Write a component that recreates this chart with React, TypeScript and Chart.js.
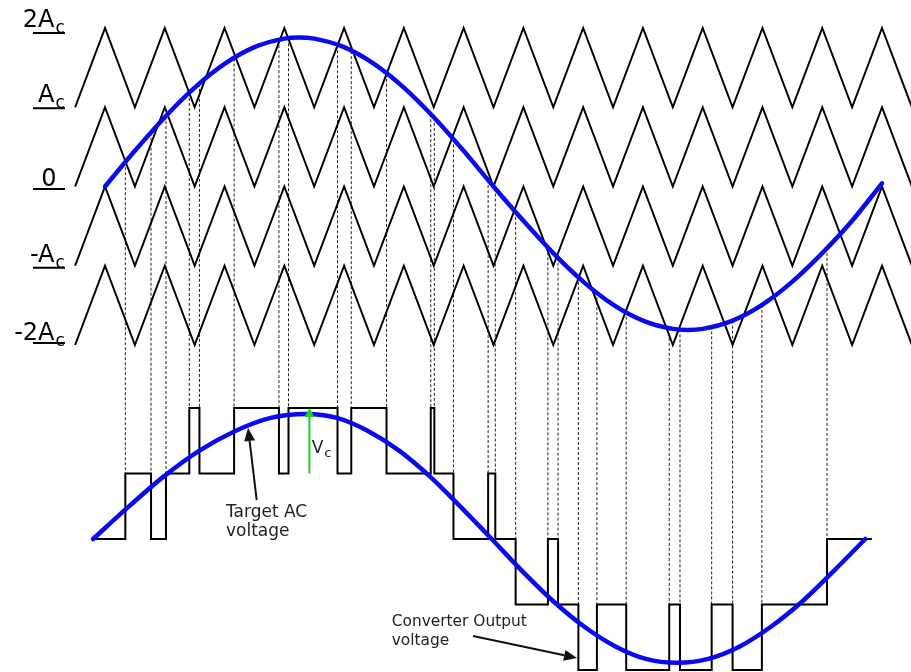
import React, { useEffect, useRef } from "react";
import { Chart, registerables } from "chart.js";

Chart.register(...registerables);

// ---------- DATA ----------
// carrier vertex times (in carrier periods), trough / peak alternating
const CARRIER_TIMES = [
  -0.5, 0, 0.5, 1, 1.5, 2, 2.5, 3, 3.5, 4, 4.5, 5, 5.5, 6, 6.5, 7, 7.5, 8, 8.5,
  9, 9.5, 10, 10.5, 11, 11.5, 12, 12.5, 13, 13.5,
];
// [trough, peak] of each level-shifted carrier, in units of Ac
const CARRIER_BANDS: [number, number][] = [
  [1, 2],
  [0, 1],
  [-1, 0],
  [-2, -1],
];

// reference (modulating) sine, in units of Ac
const REF_TIMES = [
  0, 0.5, 1, 1.5, 2, 2.5, 3, 3.25, 3.5, 4, 4.5, 5, 5.5, 6, 6.5, 7, 7.5, 8, 8.5,
  9, 9.5, 9.75, 10, 10.5, 11, 11.5, 12, 12.5, 13,
];
const REF_VALUES = [
  0, 0.45, 0.874, 1.247, 1.547, 1.758, 1.866, 1.88, 1.866, 1.758, 1.547, 1.247,
  0.874, 0.45, 0, -0.433, -0.841, -1.2, -1.49, -1.692, -1.797, -1.81, -1.797,
  -1.692, -1.49, -1.2, -0.841, -0.433, 0.04,
];

// converter output: switching instants and level after each switch
const OUT_SWITCH_TIMES = [
  -0.2, 0.34, 0.77, 1.02, 1.41, 1.58, 2.16, 2.91, 3.07, 3.89, 4.12, 4.71, 5.45,
  5.51, 5.83, 6.41, 6.53, 6.87, 7.41, 7.58, 7.92, 8.23, 8.72, 9.44, 9.62, 10.15,
  10.5, 10.99, 12.08,
];
const OUT_LEVELS = [
  0, 1, 0, 1, 2, 1, 2, 1, 2, 1, 2, 1, 2, 1, 0, 1, 0, -1, 0, -1, -2, -1, -2, -1,
  -2, -1, -2, -1, 0,
];
const OUT_END_TIME = 12.83;

// target AC voltage drawn with the output (in output levels)
const TARGET_TIMES = [
  -0.2, 0.39, 0.99, 1.58, 2.18, 2.77, 3.36, 3.88, 4.4, 4.92, 5.43, 5.95, 6.47,
  6.98, 7.5, 8.02, 8.54, 9.05, 9.57, 10.09, 10.62, 11.14, 11.67, 12.19, 12.72,
];
const TARGET_LEVELS = [
  0, 0.49, 0.96, 1.35, 1.65, 1.85, 1.91, 1.85, 1.65, 1.35, 0.96, 0.49, 0, -0.49,
  -0.95, -1.34, -1.64, -1.83, -1.89, -1.83, -1.64, -1.34, -0.95, -0.49, 0,
];

// level labels on the left
const LEVEL_VALUES = [2, 1, 0, -1, -2];
const LEVEL_MAIN = ["2A", "A", "0", "-A", "-2A"];
const LEVEL_SUB = ["c", "c", "", "c", "c"];

// ---------- LAYOUT ----------
const W = 911;
const H = 672;
const X_MIN = -1.757;
const X_MAX = 13.485;
const Y_MIN = -6.126;
const Y_MAX = 2.353;
const OUT_CENTER = -4.448;
const OUT_STEP = 0.8265;
const outV = (L: number) => OUT_CENTER + L * OUT_STEP;

const BLUE = "#0a0af0";
const GREEN = "#22cc22";
const FONT = "'DejaVu Sans', Verdana, sans-serif";

function interpRef(t: number) {
  for (let i = 0; i < REF_TIMES.length - 1; i++) {
    if (t >= REF_TIMES[i] && t <= REF_TIMES[i + 1]) {
      const f = (t - REF_TIMES[i]) / (REF_TIMES[i + 1] - REF_TIMES[i]);
      return REF_VALUES[i] + f * (REF_VALUES[i + 1] - REF_VALUES[i]);
    }
  }
  return 0;
}

function arrow(
  ctx: CanvasRenderingContext2D,
  x0: number,
  y0: number,
  x1: number,
  y1: number,
  color: string,
  headLen: number,
  headHalf: number,
  lw: number
) {
  const ang = Math.atan2(y1 - y0, x1 - x0);
  const bx = x1 - headLen * Math.cos(ang);
  const by = y1 - headLen * Math.sin(ang);
  ctx.strokeStyle = color;
  ctx.fillStyle = color;
  ctx.lineWidth = lw;
  ctx.setLineDash([]);
  ctx.beginPath();
  ctx.moveTo(x0, y0);
  ctx.lineTo(bx, by);
  ctx.stroke();
  ctx.beginPath();
  ctx.moveTo(x1, y1);
  ctx.lineTo(bx + headHalf * Math.sin(ang), by - headHalf * Math.cos(ang));
  ctx.lineTo(bx - headHalf * Math.sin(ang), by + headHalf * Math.cos(ang));
  ctx.closePath();
  ctx.fill();
}

const annotatePlugin = {
  id: "annotate",
  afterDatasetsDraw(chart: any) {
    const ctx: CanvasRenderingContext2D = chart.ctx;
    const xs = chart.scales.x;
    const ys = chart.scales.y;
    const px = (t: number) => xs.getPixelForValue(t);
    const py = (v: number) => ys.getPixelForValue(v);
    const pyL = (L: number) => py(outV(L));
    ctx.save();

    // level labels with underlines
    const baseOff = [-1, -5, 0, -4, -5];
    const ulOff = [5, 1, 2.5, 2, -2];
    ctx.fillStyle = "#000";
    ctx.strokeStyle = "#000";
    ctx.textBaseline = "alphabetic";
    LEVEL_VALUES.forEach((v, i) => {
      const yl = py(v);
      const base = yl + baseOff[i];
      ctx.font = `24px ${FONT}`;
      if (LEVEL_SUB[i]) {
        ctx.textAlign = "right";
        ctx.fillText(LEVEL_MAIN[i], 54.5, base);
        ctx.font = `17px ${FONT}`;
        ctx.textAlign = "left";
        ctx.fillText(LEVEL_SUB[i], 55.5, base + 6);
      } else {
        ctx.textAlign = "center";
        ctx.fillText(LEVEL_MAIN[i], 49, base);
      }
      ctx.lineWidth = 2;
      ctx.beginPath();
      ctx.moveTo(33, yl + ulOff[i]);
      ctx.lineTo(65, yl + ulOff[i]);
      ctx.stroke();
    });

    // Target AC voltage annotation
    ctx.font = `17px ${FONT}`;
    ctx.textAlign = "left";
    ctx.fillStyle = "#222";
    ctx.fillText("Target AC", px(2.024), pyL(0.34));
    ctx.fillText("voltage", px(2.024), pyL(0.053));
    arrow(ctx, px(2.538), pyL(0.595), px(2.393), pyL(1.695), "#111", 13, 5.5, 2);

    // V_c step arrow
    arrow(ctx, px(3.42), pyL(1), px(3.42), pyL(2), GREEN, 9, 5, 2);
    ctx.fillStyle = "#222";
    ctx.font = `17px ${FONT}`;
    ctx.fillText("V", px(3.458), pyL(1.308));
    ctx.font = `13px ${FONT}`;
    ctx.fillText("c", px(3.458) + 12.5, pyL(1.308) + 4);

    // Converter output annotation
    ctx.font = `15.4px ${FONT}`;
    ctx.fillStyle = "#222";
    ctx.fillText("Converter Output", px(4.797), pyL(-1.328));
    ctx.fillText("voltage", px(4.797), pyL(-1.618));
    arrow(ctx, px(6.157), pyL(-1.481), px(7.897), pyL(-1.817), "#111", 13, 5.5, 2);

    ctx.restore();
  },
};

export default function App() {
  const ref = useRef<HTMLCanvasElement | null>(null);

  useEffect(() => {
    document.body.style.margin = "0";
    const canvas = ref.current;
    if (!canvas) return;

    const carrierSets = CARRIER_BANDS.map(([lo, hi]) => ({
      data: CARRIER_TIMES.map((t, i) => ({ x: t, y: i % 2 === 0 ? lo : hi })),
      borderColor: "#000",
      borderWidth: 2,
      pointRadius: 0,
      showLine: true,
      tension: 0,
      order: 4,
    }));

    const refSet = {
      data: REF_TIMES.map((t, i) => ({ x: t, y: REF_VALUES[i] })),
      borderColor: BLUE,
      borderWidth: 4.5,
      pointRadius: 0,
      showLine: true,
      cubicInterpolationMode: "monotone" as const,
      borderCapStyle: "round" as const,
      order: 1,
    };

    const outPts: { x: number; y: number }[] = [];
    OUT_SWITCH_TIMES.forEach((t, i) => {
      if (i === 0) {
        outPts.push({ x: t, y: outV(OUT_LEVELS[0]) });
      } else {
        outPts.push({ x: t, y: outV(OUT_LEVELS[i - 1]) });
        outPts.push({ x: t, y: outV(OUT_LEVELS[i]) });
      }
    });
    outPts.push({ x: OUT_END_TIME, y: outV(OUT_LEVELS[OUT_LEVELS.length - 1]) });

    const outSet = {
      data: outPts,
      borderColor: "#000",
      borderWidth: 2,
      pointRadius: 0,
      showLine: true,
      tension: 0,
      borderJoinStyle: "miter" as const,
      order: 3,
    };

    const targetSet = {
      data: TARGET_TIMES.map((t, i) => ({ x: t, y: outV(TARGET_LEVELS[i]) })),
      borderColor: BLUE,
      borderWidth: 4.5,
      pointRadius: 0,
      showLine: true,
      cubicInterpolationMode: "monotone" as const,
      borderCapStyle: "round" as const,
      order: 1,
    };

    const dashPts: { x: number; y: number | null }[] = [];
    for (let i = 1; i < OUT_SWITCH_TIMES.length; i++) {
      const t = OUT_SWITCH_TIMES[i];
      dashPts.push({ x: t, y: interpRef(t) });
      dashPts.push({ x: t, y: outV(Math.max(OUT_LEVELS[i - 1], OUT_LEVELS[i])) });
      dashPts.push({ x: t, y: null });
    }
    const dashSet = {
      data: dashPts,
      borderColor: "#222",
      borderWidth: 1,
      borderDash: [3, 2],
      pointRadius: 0,
      showLine: true,
      spanGaps: false,
      tension: 0,
      order: 5,
    };

    const chart = new Chart(canvas, {
      type: "scatter",
      data: {
        datasets: [refSet, targetSet, outSet, ...carrierSets, dashSet] as any,
      },
      options: {
        animation: false,
        responsive: false,
        maintainAspectRatio: false,
        devicePixelRatio: 1,
        events: [],
        layout: { padding: 0 },
        plugins: {
          legend: { display: false },
          tooltip: { enabled: false },
        },
        scales: {
          x: { type: "linear", min: X_MIN, max: X_MAX, display: false },
          y: { type: "linear", min: Y_MIN, max: Y_MAX, display: false },
        },
      },
      plugins: [annotatePlugin],
    });

    return () => chart.destroy();
  }, []);

  return (
    <div style={{ width: W, height: H, background: "#fff" }}>
      <canvas ref={ref} width={W} height={H} style={{ display: "block" }} />
    </div>
  );
}
